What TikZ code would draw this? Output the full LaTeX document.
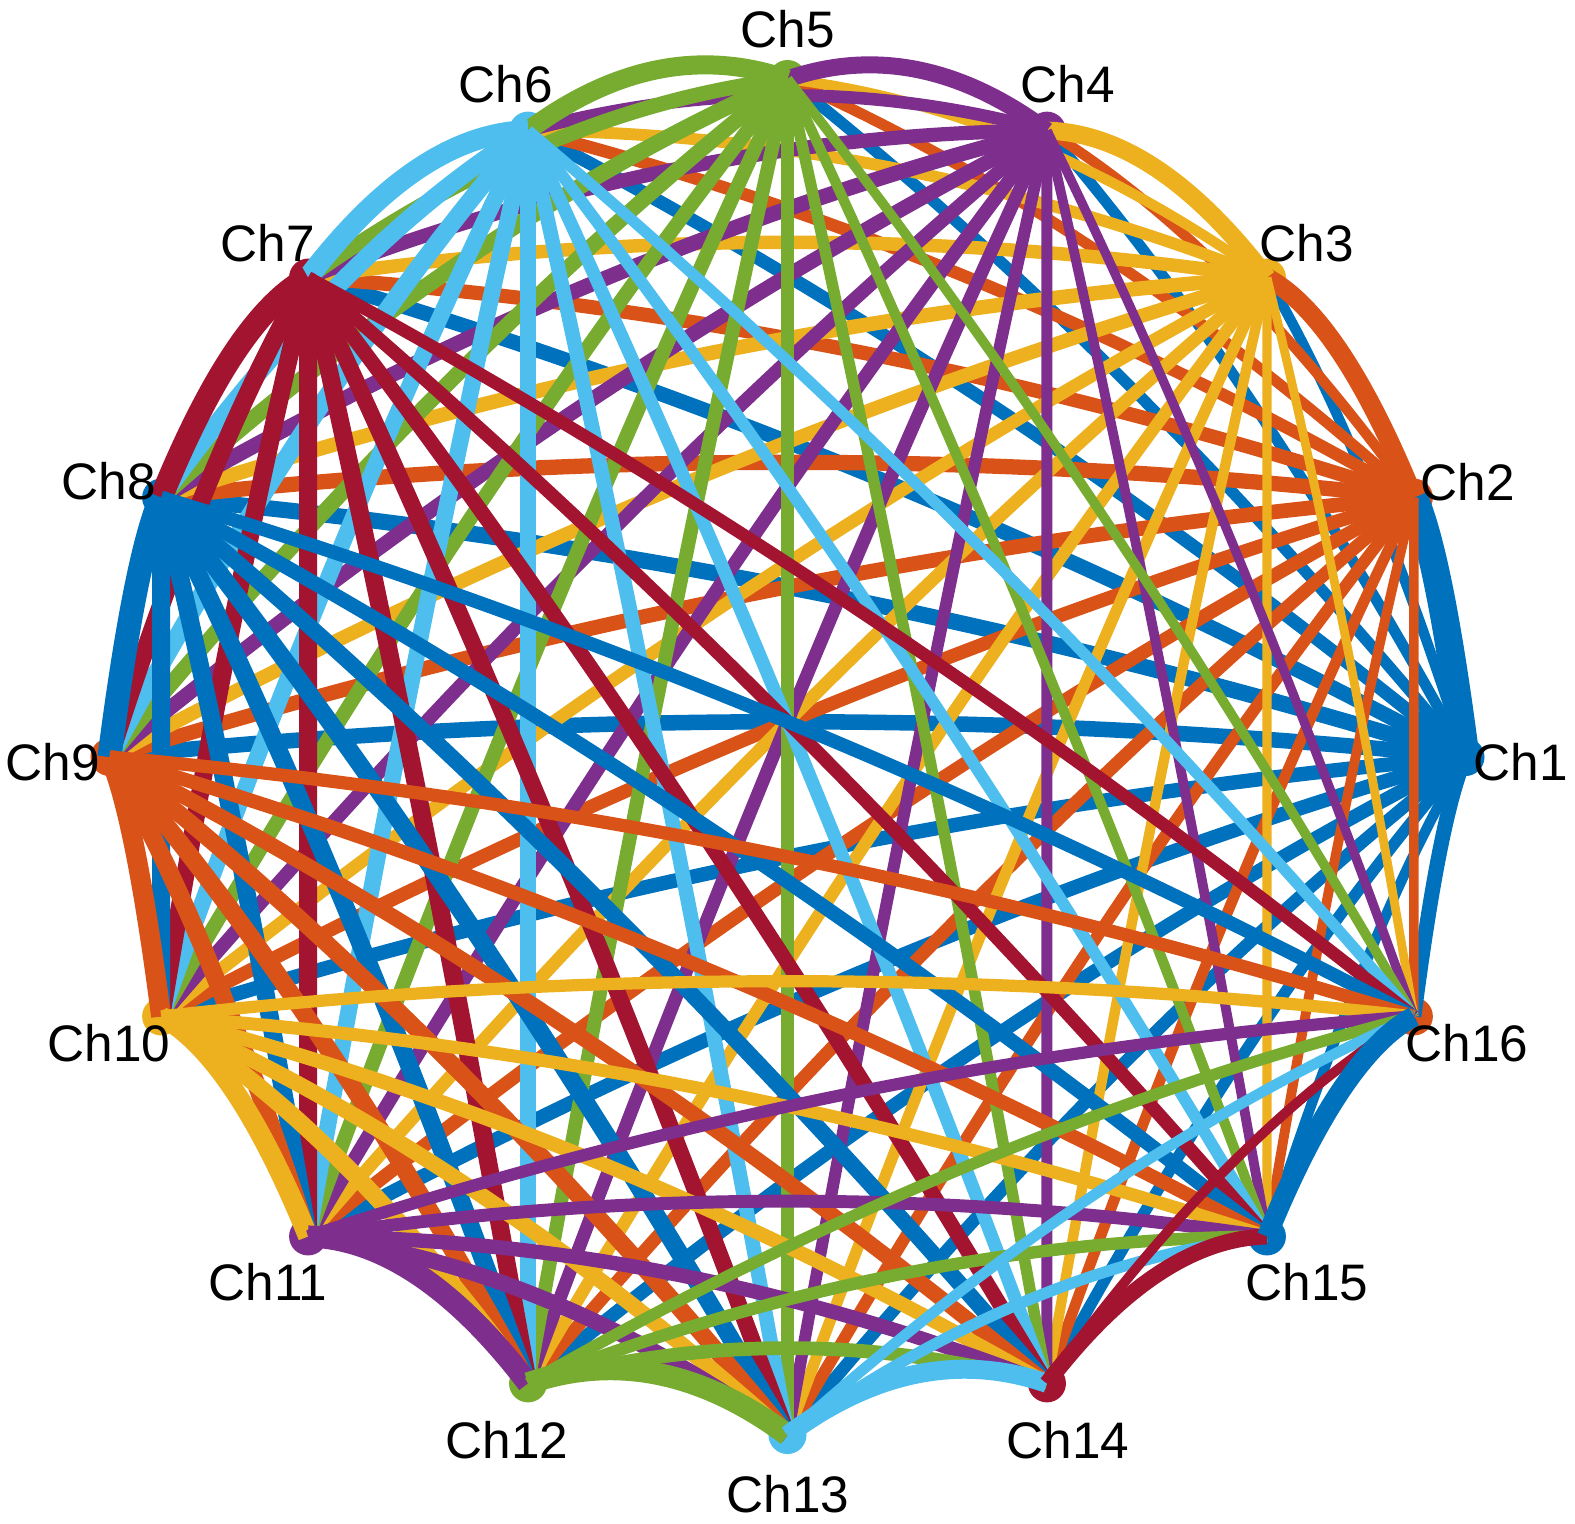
\documentclass[tikz,border=0pt]{standalone}
\usepackage{fontspec}
\setmainfont{Liberation Sans}
\usetikzlibrary{calc}
\definecolor{c0}{rgb}{0,0.447,0.741}
\definecolor{c1}{rgb}{0.850,0.325,0.098}
\definecolor{c2}{rgb}{0.929,0.694,0.125}
\definecolor{c3}{rgb}{0.494,0.184,0.556}
\definecolor{c4}{rgb}{0.466,0.674,0.188}
\definecolor{c5}{rgb}{0.301,0.745,0.933}
\definecolor{c6}{rgb}{0.635,0.078,0.184}
\def\farr{{1.0,0.95,0.9,0.95,1.0,1.15,1.3,1.4,1.35,1.25,1.25,1.2,1.1,1.0,0.9,0.85}}
\def\adj{{28,19,18,17,19,21,23,24,20,20,22,22,19,16,20}}
\begin{document}
\begin{tikzpicture}[x=0.01cm,y=-0.01cm,
  edge/.style={line cap=butt},
  marker/.style={circle, inner sep=0pt, minimum size=0.38cm},
  lbl/.style={inner sep=0pt, text=black, font=\fontsize{14.6}{17}\selectfont}]
\useasboundingbox (0,0) rectangle (1575,1523);
\foreach \k in {1,...,16}{
  \pgfmathsetmacro\xx{787.5+678*cos((\k-1)*22.5)}
  \pgfmathsetmacro\yy{757-678*sin((\k-1)*22.5)}
  \coordinate (n\k) at (\xx,\yy);
}
\foreach \k in {1,...,16}{
  \pgfmathtruncatemacro\ci{mod(\k-1,7)}
  \node[marker, fill=c\ci] (m\k) at (n\k) {};
}
\foreach \j in {2,...,16}{
  \pgfmathtruncatemacro\jm{\j-1}
  \foreach \i in {1,...,\jm}{
    \pgfmathtruncatemacro\ci{mod(\i-1,7)}
    \pgfmathsetmacro\w{(\j-\i==1) ? \adj[\i-1] : ((\j-\i==15) ? 15 : min(18,11.5*\farr[\i-1]*\farr[\j-1]))}
    \draw[edge, color=c\ci, line width=\w*0.2845pt] (n\i) .. controls ($(n\i)!1/3!(n\j)+(0,-47)$) and ($(n\i)!2/3!(n\j)+(0,-47)$) .. (n\j);
  }
}
\node[lbl] (l1) at (1521,762) {Ch1};
\node[lbl] (l2) at (1468,482) {Ch2};
\node[lbl] (l3) at (1307,243) {Ch3};
\node[lbl] (l4) at (1068,84) {Ch4};
\node[lbl] (l5) at (788,29) {Ch5};
\node[lbl] (l6) at (506,84) {Ch6};
\node[lbl] (l7) at (268,243) {Ch7};
\node[lbl] (l8) at (109,481) {Ch8};
\node[lbl] (l9) at (53,762) {Ch9};
\node[lbl] (l10) at (109,1043) {Ch10};
\node[lbl] (l11) at (268,1282) {Ch11};
\node[lbl] (l12) at (507,1440) {Ch12};
\node[lbl] (l13) at (788,1494) {Ch13};
\node[lbl] (l14) at (1068,1440) {Ch14};
\node[lbl] (l15) at (1307,1282) {Ch15};
\node[lbl] (l16) at (1467,1043) {Ch16};
\end{tikzpicture}
\end{document}
